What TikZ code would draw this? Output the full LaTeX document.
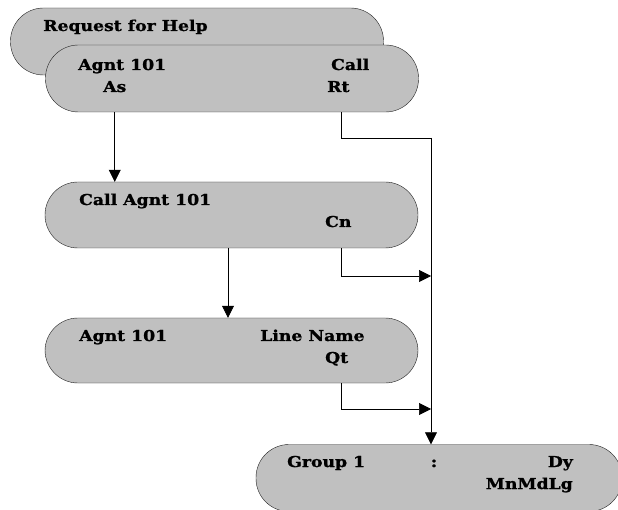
\documentclass[tikz,border=0pt]{standalone}
\usepackage{fontspec}
\setmainfont{DejaVu Serif}[BoldFeatures={FakeStretch=1.15, FakeBold=1.2}]
\usepackage{xcolor}
\usepackage{tikz}
\usetikzlibrary{arrows.meta, positioning}
\definecolor{pillgray}{RGB}{192,192,192}
\definecolor{pilledge}{RGB}{30,30,30}

\begin{document}
\begin{tikzpicture}[x=1pt, y=-1pt,
    pill/.style={draw=pilledge, fill=pillgray, rounded corners=33pt,
        minimum height=67pt, minimum width=373pt, inner sep=0pt},
    lbl/.style={anchor=base west, inner sep=0pt, font=\fontsize{15}{17}\selectfont\bfseries},
    arr/.style={-{Triangle[length=12pt,width=12pt]}, line width=0.7pt},
    wire/.style={line width=0.7pt}]
    \useasboundingbox (0,0) rectangle (618,510);

    % Boxes
    \node[pill] (help) at (197,41.5) {};
    \node[lbl] (req) at (43,31) {Request for Help};
    \node[pill] (agent) at (232,78.5) {};
    \node[lbl] (ag1) at (78,70) {Agnt 101};
    \node[lbl] (call) at (331,70) {Call};
    \node[lbl] (as) at (103,92) {As};
    \node[lbl] (rt) at (327,92) {Rt};

    \node[pill, minimum height=66pt] (callag) at (231.5,215) {};
    \node[lbl] (cag) at (79,205) {Call Agnt 101};
    \node[lbl] (cn) at (325,227) {Cn};

    \node[pill, minimum height=65pt] (line) at (231.5,350.5) {};
    \node[lbl] (ag2) at (79,341) {Agnt 101};
    \node[lbl] (lname) at (260,341) {Line Name};
    \node[lbl] (qt) at (325,363) {Qt};

    \node[pill, minimum width=366pt] (group) at (439,478) {};
    \node[lbl] (grp) at (287,467) {Group 1};
    \node[lbl, anchor=base] (colon) at (434,467) {:};
    \node[lbl, anchor=base east] (dy) at (573,467) {Dy};
    \node[lbl, anchor=base east] (mml) at (573,489) {MnMdLg};

    % Tap points and bus
    \coordinate (tap) at (341,0);
    \coordinate (drop) at (228,0);
    \coordinate (top) at (431,138);
    \coordinate (j1) at (431,276);
    \coordinate (j2) at (431,409);

    % Connectors
    \draw[arr] (agent.south -| as) -- (callag.north -| as);
    \draw[wire] (agent.south -| tap) |- (top);
    \draw[arr] (top) -- (group.north -| top);
    \draw[arr] (callag.south -| drop) -- (line.north -| drop);
    \draw[arr] (callag.south -| tap) |- (j1);
    \draw[arr] (line.south -| tap) |- (j2);
\end{tikzpicture}
\end{document}
